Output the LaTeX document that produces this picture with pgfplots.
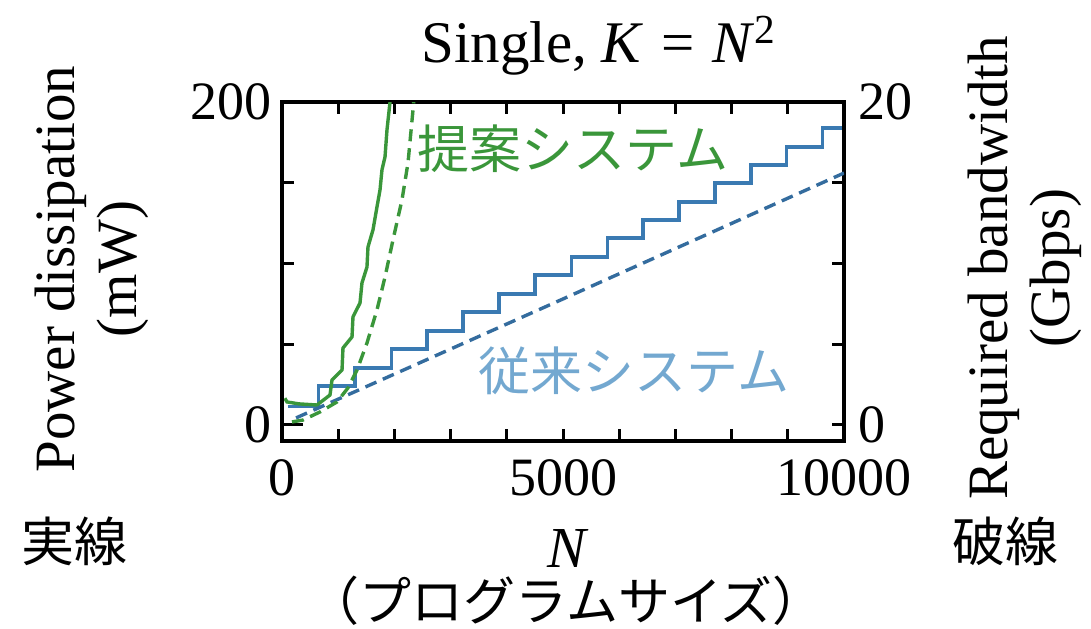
\documentclass[border=0pt]{standalone}
\usepackage{fontspec}
\setmainfont{Liberation Serif}
\newfontfamily\jp{Noto Sans CJK JP}
\usepackage{pgfplots}
\pgfplotsset{compat=1.18}
\definecolor{pgreen}{RGB}{58,150,58}
\definecolor{cblue}{RGB}{58,122,178}
\definecolor{cbluedash}{RGB}{52,108,158}
\definecolor{lblue}{RGB}{115,168,208}
\begin{document}
\begin{tikzpicture}
\useasboundingbox (-141pt,-93.5pt) rectangle (404.5pt,220.5pt);
\pgfplotsset{
  common/.style={
    scale only axis, width=281pt, height=169.5pt,
    xmin=0, xmax=10000,
    axis line style={line width=2.4pt},
    every tick/.style={line width=1.5pt, black},
    major tick length=6pt, minor tick length=6pt,
    tick label style={font=\fontsize{27}{32}\selectfont},
    /pgf/number format/assume math mode=true,
    /pgf/number format/1000 sep={},
    scaled ticks=false,
  }
}
\begin{axis}[common,
  ymin=-10, ymax=200,
  xtick={0,5000,10000}, minor xtick={1000,2000,3000,4000,6000,7000,8000,9000},
  ytick={0,200}, minor ytick={50,100,150},
  ytick pos=left,
  xticklabel style={yshift=-6pt},
  yticklabel style={xshift=-1.5pt},
]
\addplot[cblue, line width=1.8pt, const plot] coordinates {
(100,11.5)(650,24.1)(1300,35.3)(1950,47.0)(2580,58.2)(3220,70.0)(3860,81.1)(4500,92.9)(5150,104.0)(5790,115.8)(6420,127.0)(7060,138.1)(7700,149.9)(8340,161.0)(8980,172.2)(9620,184.0)(10000,184.0)};
\addplot[pgreen, line width=1.7pt] coordinates {
(50,16.5)(89,14.2)(300,13)(623,12.3)(854,18.5)(890,27.8)(1068,34.0)(1085,47.6)(1246,54.5)(1263,66.9)(1388,75.5)(1423,87.9)(1512,97.8)(1530,110.2)(1619,120.8)(1690,135.0)(1744,145.5)(1779,158.0)(1833,166.0)(1868,182.7)(1922,200)(1950,212)};
\addplot[black, line width=1.5pt] coordinates {(200,0)(380,0)};
\end{axis}
\begin{axis}[common,
  ymin=-1, ymax=20,
  hide x axis,
  ytick={0,20}, minor ytick={5,10,15},
  ytick pos=right, yticklabel pos=right,
  yticklabel style={xshift=3.5pt},
]
\addplot[cbluedash, line width=1.7pt, dash pattern=on 6pt off 3.5pt] coordinates {(250,0.43)(5000,7.8)(10000,15.6)};
\addplot[pgreen, line width=1.7pt, dash pattern=on 6pt off 3.5pt] coordinates {
(178,0.18)(374,0.30)(676,0.80)(979,1.42)(1174,2.29)(1335,3.40)(1512,5.07)(1690,7.12)(1833,9.16)(1975,11.46)(2135,13.94)(2242,16.23)(2331,19.51)(2370,21)};
\end{axis}
\node[anchor=base, font=\fontsize{29.5}{33}\selectfont] at (158.5pt,189.5pt) {Single, \textit{K}\hspace{0.3em}=\hspace{0.3em}\textit{N}\textsuperscript{2}};
\node[rotate=90, align=center, font=\fontsize{28.5}{31}\selectfont] at (-95pt,86pt) {Power dissipation\\(mW)};
\node[rotate=90, align=center, font=\fontsize{28.5}{31}\selectfont] at (371.5pt,86.5pt) {Required bandwidth\\(Gbps)};
\node[font=\fontsize{29}{32}\selectfont\itshape, inner sep=0pt] at (142.5pt,-54pt) {N};
\node[font=\jp\fontsize{26}{30}\selectfont, inner sep=0pt] at (142pt,-80pt) {（プログラムサイズ）};
\node[font=\jp\fontsize{26.5}{30}\selectfont] at (-103.5pt,-50pt) {実線};
\node[font=\jp\fontsize{26.5}{30}\selectfont] at (361.5pt,-50pt) {破線};
\node[font=\jp\fontsize{26}{30}\selectfont, text=pgreen] at (145.5pt,146pt) {提案システム};
\node[font=\jp\fontsize{26}{30}\selectfont, text=lblue] at (176pt,35pt) {従来システム};
\end{tikzpicture}
\end{document}
